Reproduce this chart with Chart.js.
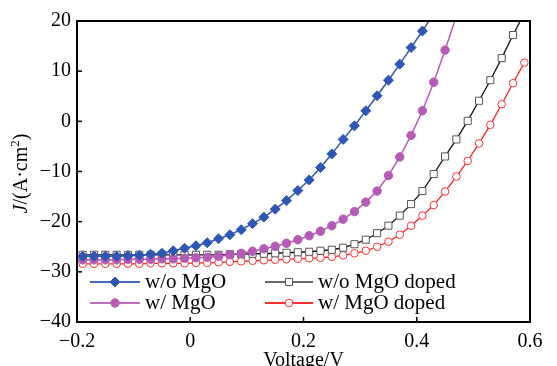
<!DOCTYPE html>
<html>
<head>
<meta charset="utf-8">
<script src="https://cdn.jsdelivr.net/npm/chart.js@4"></script>
<style>
  html, body { margin: 0; padding: 0; background: #fff; }
  #chart { display: block; }
</style>
</head>
<body>
<canvas id="chart" width="557" height="366"></canvas>
<script>
// voltage points (V), shared by all curves
const voltage = [
  -0.19, -0.17, -0.15, -0.13, -0.11, -0.09, -0.07, -0.05, -0.03, -0.01,
  0.01, 0.03, 0.05, 0.07, 0.09, 0.11, 0.13, 0.15, 0.17, 0.19,
  0.21, 0.23, 0.25, 0.27, 0.29, 0.31, 0.33, 0.35, 0.37, 0.39,
  0.41, 0.43, 0.45, 0.47, 0.49, 0.51, 0.53, 0.55, 0.57, 0.59
];

// current density J (mA/cm2)
const jWoMgO = [
  -26.9, -26.9, -26.9, -26.9, -26.8, -26.7, -26.5, -26.3, -25.8, -25.3,
  -24.8, -24.2, -23.4, -22.6, -21.6, -20.4, -19.1, -17.5, -15.8, -13.8,
  -11.7, -9.2, -6.5, -3.6, -0.9, 2.1, 5.1, 8.2, 11.4, 14.7,
  18.0, 21.5
];
const jWMgO = [
  -27.6, -27.6, -27.6, -27.6, -27.5, -27.5, -27.5, -27.4, -27.4, -27.3,
  -27.2, -27.1, -26.9, -26.6, -26.3, -25.9, -25.4, -24.9, -24.3, -23.6,
  -22.8, -21.9, -20.8, -19.5, -18.0, -16.1, -13.9, -10.8, -7.1, -2.8,
  2.1, 7.8, 14.2, 21.0
];
const jWoMgODoped = [
  -26.6, -26.6, -26.6, -26.6, -26.6, -26.6, -26.6, -26.6, -26.6, -26.6,
  -26.6, -26.6, -26.6, -26.5, -26.5, -26.4, -26.4, -26.3, -26.2, -26.1,
  -26.0, -25.8, -25.6, -25.2, -24.5, -23.6, -22.3, -20.8, -18.8, -16.5,
  -13.9, -10.5, -7.0, -3.6, 0.1, 4.1, 8.2, 12.6, 17.2, 21.6
];
const jWMgODoped = [
  -28.4, -28.4, -28.4, -28.4, -28.4, -28.4, -28.3, -28.3, -28.3, -28.3,
  -28.2, -28.2, -28.1, -28.0, -27.9, -27.8, -27.7, -27.6, -27.5, -27.4,
  -27.3, -27.2, -27.0, -26.7, -26.3, -25.8, -25.0, -24.0, -22.6, -20.8,
  -18.8, -16.7, -14.0, -11.0, -7.9, -4.4, -0.7, 3.4, 7.6, 11.7
];

const seriesNames = ['w/o MgO', 'w/ MgO', 'w/o MgO doped', 'w/ MgO doped'];
const xTicks = [-0.2, 0, 0.2, 0.4, 0.6];
const yTicks = [-40, -30, -20, -10, 0, 10, 20];

const FONT = "'Liberation Serif', 'Times New Roman', serif";

const toPoints = ys => ys.map((y, i) => ({ x: voltage[i], y: y }));
const fmt = v => (v === 0 ? '0' : String(v)).replace('-', '\u2212');

const datasets = [
  {
    label: seriesNames[0], data: toPoints(jWoMgO),
    borderColor: '#2d56b5', backgroundColor: '#2d56b5', borderWidth: 1.5,
    pointStyle: 'rectRot', pointRadius: 5, pointBorderWidth: 1,
    pointBackgroundColor: '#2d56b5', pointBorderColor: '#2d56b5',
    legendLine: '#4466c4'
  },
  {
    label: seriesNames[1], data: toPoints(jWMgO),
    borderColor: '#b85bb8', backgroundColor: '#b85bb8', borderWidth: 1.5,
    pointStyle: 'circle', pointRadius: 4.2, pointBorderWidth: 1,
    pointBackgroundColor: '#b55ab5', pointBorderColor: '#b55ab5',
    legendLine: '#c070c0'
  },
  {
    label: seriesNames[2], data: toPoints(jWoMgODoped),
    borderColor: '#111111', backgroundColor: '#ffffff', borderWidth: 1.3,
    pointStyle: 'rect', pointRadius: 5, pointBorderWidth: 1,
    pointBackgroundColor: '#ffffff', pointBorderColor: '#555555',
    legendLine: '#666666'
  },
  {
    label: seriesNames[3], data: toPoints(jWMgODoped),
    borderColor: '#ff2020', backgroundColor: '#ffffff', borderWidth: 1.3,
    pointStyle: 'circle', pointRadius: 3.8, pointBorderWidth: 1,
    pointBackgroundColor: '#ffffff', pointBorderColor: '#ff3030',
    legendLine: '#ff3030'
  }
];

// frame, inward ticks, y title and the in-plot legend
const decorations = {
  id: 'decorations',
  afterDraw(chart) {
    const ctx = chart.ctx;
    const area = chart.chartArea;
    const xs = chart.scales.x;
    const ys = chart.scales.y;
    ctx.save();

    ctx.strokeStyle = '#000';
    ctx.lineWidth = 1.5;
    xTicks.forEach(v => {
      const px = xs.getPixelForValue(v);
      ctx.beginPath();
      ctx.moveTo(px, area.bottom);
      ctx.lineTo(px, area.bottom - 5);
      ctx.stroke();
    });
    yTicks.forEach(v => {
      const py = ys.getPixelForValue(v);
      ctx.beginPath();
      ctx.moveTo(area.left, py);
      ctx.lineTo(area.left + 5, py);
      ctx.stroke();
    });
    ctx.lineWidth = 2;
    ctx.strokeRect(area.left, area.top, area.right - area.left, area.bottom - area.top);

    // y axis title: J/(A·cm²) with italic J
    ctx.translate(22, (area.top + area.bottom) / 2 + 2);
    ctx.rotate(-Math.PI / 2);
    ctx.fillStyle = '#000';
    ctx.textBaseline = 'middle';
    const parts = [
      { t: 'J', f: 'italic 20px ' + FONT, dy: 0 },
      { t: '/(A\u00b7cm', f: '20px ' + FONT, dy: 0 },
      { t: '2', f: '13px ' + FONT, dy: -6 },
      { t: ')', f: '20px ' + FONT, dy: 0 }
    ];
    let total = 0;
    parts.forEach(p => { ctx.font = p.f; total += ctx.measureText(p.t).width; });
    let cx = -total / 2;
    parts.forEach(p => {
      ctx.font = p.f;
      ctx.fillText(p.t, cx, p.dy);
      cx += ctx.measureText(p.t).width;
    });
    ctx.setTransform(1, 0, 0, 1, 0, 0);

    // legend, two columns inside the plot
    const slots = [
      { x0: 90, x1: 140, y: 282 },
      { x0: 90, x1: 140, y: 303 },
      { x0: 265, x1: 313, y: 282 },
      { x0: 265, x1: 313, y: 303 }
    ];
    ctx.font = '21px ' + FONT;
    ctx.textBaseline = 'middle';
    chart.data.datasets.forEach((ds, i) => {
      const s = slots[i];
      ctx.strokeStyle = ds.legendLine;
      ctx.lineWidth = 2;
      ctx.beginPath();
      ctx.moveTo(s.x0, s.y);
      ctx.lineTo(s.x1, s.y);
      ctx.stroke();
      ctx.fillStyle = ds.pointBackgroundColor;
      ctx.strokeStyle = ds.pointBorderColor;
      ctx.lineWidth = 1;
      Chart.helpers.drawPoint(ctx, {
        pointStyle: ds.pointStyle, radius: ds.pointRadius, rotation: 0, borderWidth: 1
      }, (s.x0 + s.x1) / 2, s.y);
      ctx.fillStyle = '#000';
      ctx.fillText(ds.label, s.x1 + 5, s.y);
    });
    ctx.restore();
  }
};

new Chart(document.getElementById('chart'), {
  type: 'line',
  data: { datasets: datasets },
  options: {
    responsive: false,
    animation: false,
    devicePixelRatio: 1,
    layout: { padding: { top: 21, right: 27, left: 0, bottom: 0 } },
    plugins: { legend: { display: false }, tooltip: { enabled: false } },
    scales: {
      x: {
        type: 'linear', min: -0.2, max: 0.6,
        afterBuildTicks: s => { s.ticks = xTicks.map(v => ({ value: v })); },
        afterFit: s => { s.height = 44; },
        grid: { display: false, drawTicks: false },
        border: { display: false },
        ticks: {
          padding: 8, color: '#000', maxRotation: 0, autoSkip: false,
          font: { family: FONT, size: 20 },
          callback: v => fmt(Math.round(v * 10) / 10)
        },
        title: {
          display: true, text: 'Voltage/V', color: '#000',
          font: { family: FONT, size: 20 }, padding: { top: 0, bottom: -7 }
        }
      },
      y: {
        min: -40, max: 20,
        afterBuildTicks: s => { s.ticks = yTicks.map(v => ({ value: v })); },
        afterFit: s => { s.width = 77; },
        grid: { display: false, drawTicks: false },
        border: { display: false },
        ticks: {
          padding: 6, color: '#000', autoSkip: false,
          font: { family: FONT, size: 20 },
          callback: v => fmt(v)
        }
      }
    }
  },
  plugins: [decorations]
});
</script>
</body>
</html>
